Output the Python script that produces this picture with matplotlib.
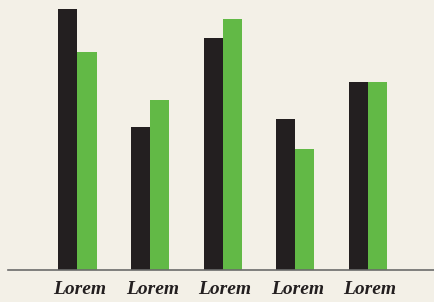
import matplotlib
matplotlib.use("Agg")
import matplotlib.pyplot as plt
import numpy as np

categories = ["Lorem", "Lorem", "Lorem", "Lorem", "Lorem"]
series_black = [8.70, 4.77, 7.73, 5.03, 6.27]
series_green = [7.27, 5.67, 8.37, 4.03, 6.27]

bg = "#f3f0e7"
fig = plt.figure(figsize=(4.34, 3.02), dpi=100, facecolor=bg)
ax = fig.add_axes([8/434, 32/302, 426/434, 270/302])
ax.set_facecolor(bg)

x = np.arange(len(categories))
w = 0.262
ax.bar(x - w/2, series_black, width=w, color="#231f20", zorder=2)
ax.bar(x + w/2, series_green, width=w, color="#62b946", zorder=2)

ax.set_xlim(-0.957, 4.91)
ax.set_ylim(0, 9.0)
for s in ["top", "right", "left"]:
    ax.spines[s].set_visible(False)
ax.spines["bottom"].set_color("#6b6b6b")
ax.spines["bottom"].set_linewidth(1.2)
ax.set_yticks([])
ax.set_xticks(x + 0.03)
ax.set_xticklabels(categories, fontfamily="Liberation Serif", fontweight="bold",
                   fontstyle="italic", fontsize=14, color="#231f20")
ax.tick_params(axis="x", length=0, pad=8)

fig.savefig("out.png", dpi=100, facecolor=bg)
